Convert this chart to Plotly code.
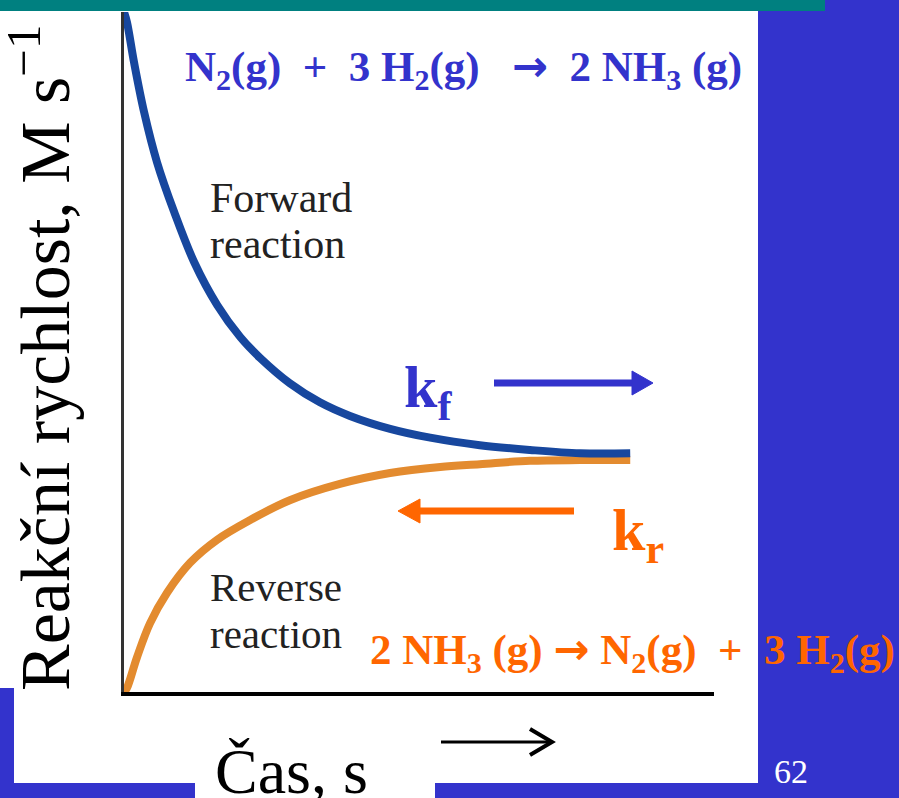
import plotly.graph_objects as go

# ---- data ----
time_fwd = [0.0, 0.05, 0.17, 0.34, 0.56, 0.85, 1.19, 1.58, 1.97, 2.31, 2.81, 3.32, 3.83, 4.51, 5.19, 6.03, 6.88, 7.73, 8.58]
rate_fwd = [100.0, 98.5, 92.6, 85.3, 77.9, 70.6, 63.2, 56.9, 52.2, 49.1, 45.4, 42.6, 40.6, 38.7, 37.4, 36.3, 35.6, 35.1, 35.1]
time_rev = [0.0, 0.05, 0.22, 0.44, 0.73, 1.12, 1.58, 2.14, 2.81, 3.66, 4.51, 5.36, 6.03, 6.88, 7.73, 8.58]
rate_rev = [0.0, 0.6, 5.1, 10.1, 14.6, 19.0, 22.4, 25.3, 28.2, 30.6, 32.2, 33.1, 33.5, 34.0, 34.1, 34.1]

x_range = [0, 10]
y_range = [0, 100]

# ---- page geometry (pixels) ----
FW, FH = 899, 798
L, R, T, B = 124, 185, 12, 106
PW, PH = FW - L - R, FH - T - B
BOTTOM = FH - B


def X(px):
    return (px - L) / PW


def Y(py):
    return (BOTTOM - py) / PH


BLUE_BG = "#3333CC"
TEAL = "#008080"
ORANGE = "#FF6600"
SERIF = "Liberation Serif, Times New Roman, serif"
NB = "\u00a0"
ARROW = '<span style="font-family:DejaVu Sans">\u2192</span>'

fig = go.Figure()
fig.add_trace(go.Scatter(x=time_rev, y=rate_rev, mode="lines",
                         line=dict(color="#E38B2F", width=8, shape="spline", smoothing=1.0),
                         hoverinfo="skip", showlegend=False))
fig.add_trace(go.Scatter(x=time_fwd, y=rate_fwd, mode="lines",
                         line=dict(color="#17479E", width=8, shape="spline", smoothing=1.0),
                         hoverinfo="skip", showlegend=False))

shapes = []


def rect(x0, y0, x1, y1, color, layer="below"):
    shapes.append(dict(type="rect", xref="paper", yref="paper",
                       x0=X(x0), x1=X(x1), y0=Y(y0), y1=Y(y1),
                       fillcolor=color, line=dict(width=0), layer=layer))


rect(0, 0, 825, 11, TEAL)
rect(0, 11, 758, 783, "white")
rect(0, 688, 14, 798, BLUE_BG)
rect(195, 740, 435, 798, "white")


def arrow(x_tail, x_base, x_tip, y, half, color, width):
    shapes.append(dict(type="line", xref="paper", yref="paper",
                       x0=X(x_tail), x1=X(x_base), y0=Y(y), y1=Y(y),
                       line=dict(color=color, width=width), layer="above"))
    path = "M {} {} L {} {} L {} {} Z".format(X(x_base), Y(y - half), X(x_tip), Y(y), X(x_base), Y(y + half))
    shapes.append(dict(type="path", xref="paper", yref="paper", path=path,
                       fillcolor=color, line=dict(color=color, width=1), layer="above"))


arrow(494, 632, 653, 383, 12, BLUE_BG, 7)
arrow(574, 420, 398, 511, 12, ORANGE, 7)

# time arrow below the axis
shapes.append(dict(type="line", xref="paper", yref="paper", x0=X(441), x1=X(550), y0=Y(742), y1=Y(742),
                   line=dict(color="black", width=3), layer="above"))
shapes.append(dict(type="path", xref="paper", yref="paper",
                   path="M {} {} L {} {} L {} {}".format(X(530), Y(729), X(552), Y(742), X(530), Y(755)),
                   line=dict(color="black", width=4), layer="above"))

annotations = []


def text(s, px, py, size, color, bold=False, xanchor="left", angle=0):
    annotations.append(dict(text=s, xref="paper", yref="paper", x=X(px), y=Y(py),
                            xanchor=xanchor, yanchor="middle", showarrow=False, textangle=angle,
                            font=dict(family=SERIF, size=size, color=color,
                                      weight="bold" if bold else "normal")))


text("N<sub>2</sub>(g)" + NB + " +" + NB + " 3 H<sub>2</sub>(g)" + NB + NB + " " + ARROW + NB + " 2 NH<sub>3</sub> (g)",
     183, 69, 43, BLUE_BG, bold=True)
text("2 NH<sub>3</sub> (g) " + ARROW + " N<sub>2</sub>(g)" + NB + " +" + NB + " 3 H<sub>2</sub>(g)",
     368, 652, 43, ORANGE, bold=True)
text("k<sub>f</sub>", 402, 391, 60, BLUE_BG, bold=True)
text("k<sub>r</sub>", 610, 534, 60, ORANGE, bold=True)
text("Forward", 208, 198, 42, "#222222")
text("reaction", 208, 244, 42, "#222222")
text("Reverse", 208, 587, 41, "#222222")
text("reaction", 208, 634, 41, "#222222")
text("Reakční rychlost, M s<sup>\u22121</sup>", 40, 358, 70, "black", xanchor="center", angle=-90)
text("Čas, s", 291, 771, 64, "black", xanchor="center")
text("62", 791, 771, 34, "white", xanchor="center")

fig.update_layout(
    width=FW, height=FH, autosize=False,
    margin=dict(l=L, r=R, t=T, b=B, pad=0),
    paper_bgcolor=BLUE_BG, plot_bgcolor="white",
    xaxis=dict(range=x_range, showline=True, linecolor="black", linewidth=4, showgrid=False,
               zeroline=False, showticklabels=False, ticks="", fixedrange=True),
    yaxis=dict(range=y_range, showline=True, linecolor="#333333", linewidth=3, showgrid=False,
               zeroline=False, showticklabels=False, ticks="", fixedrange=True),
    shapes=shapes, annotations=annotations, showlegend=False,
)

fig.write_html("out.html", config={"displayModeBar": False},
               post_script="document.body.style.margin='0';document.body.style.padding='0';"
                           "document.documentElement.style.overflow='hidden';")
